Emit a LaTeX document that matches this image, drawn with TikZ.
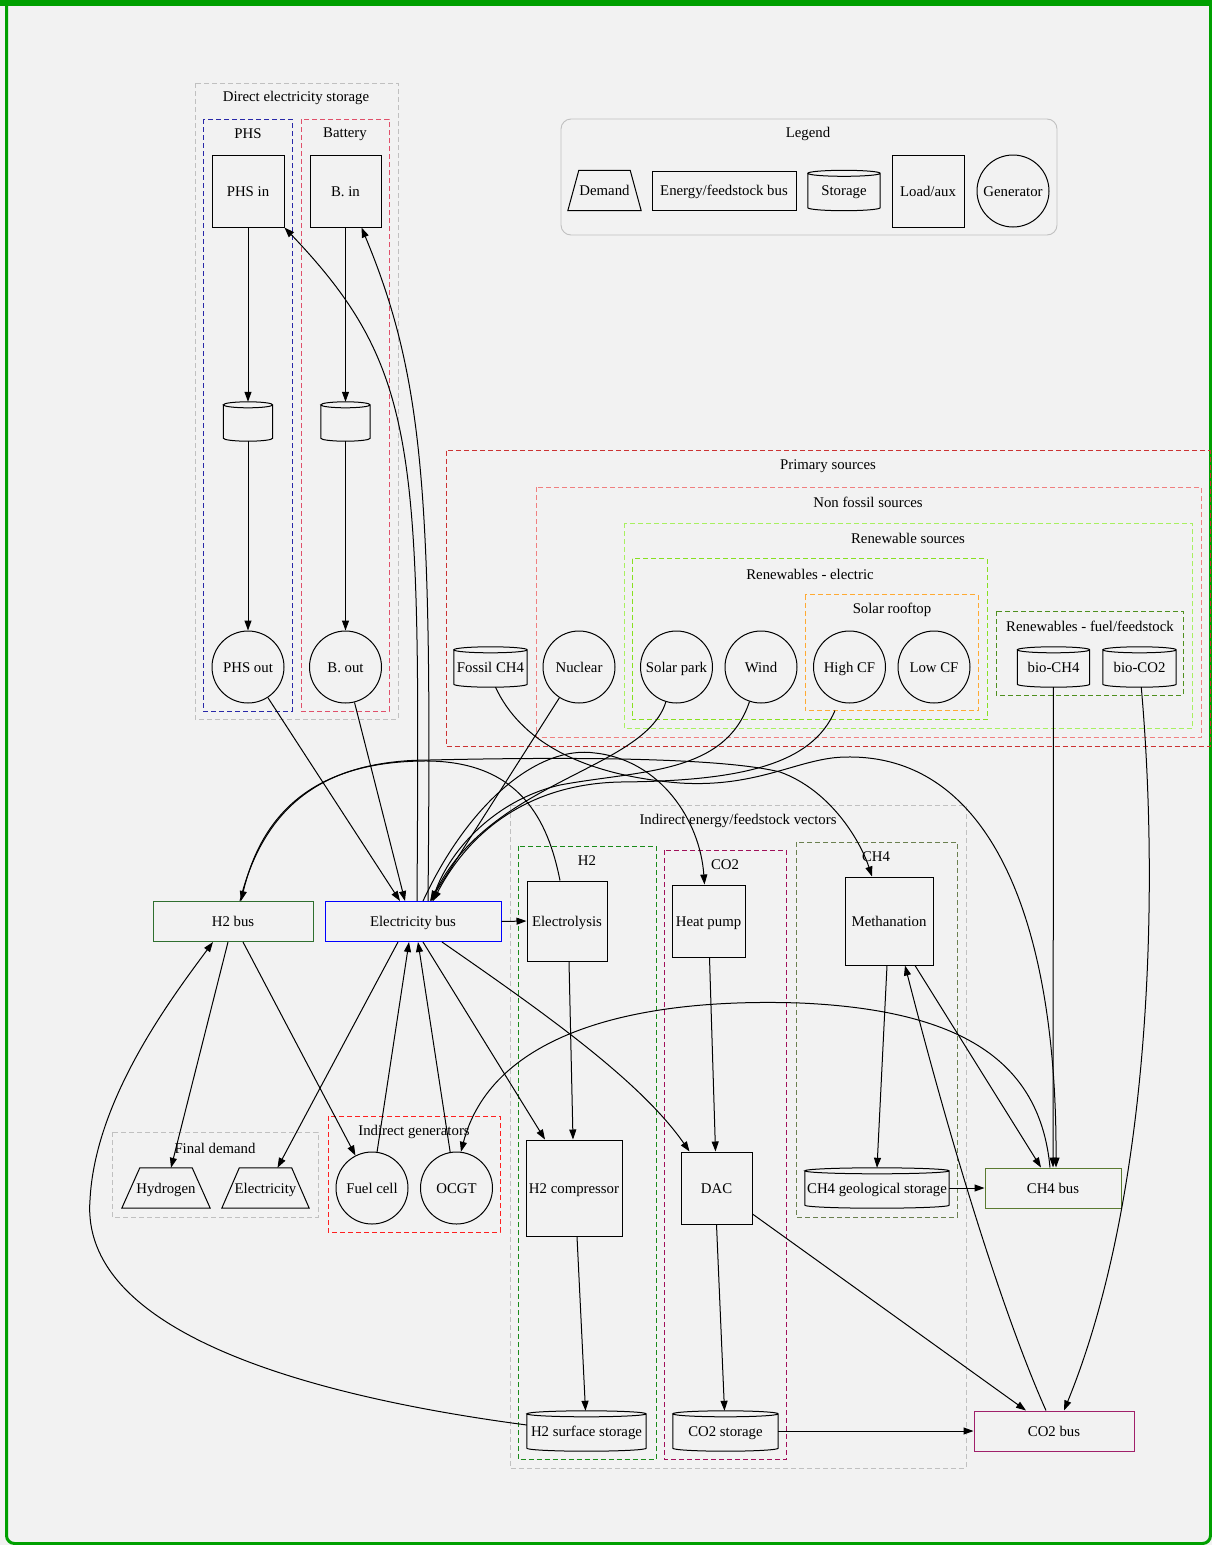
\documentclass[tikz,border=0pt]{standalone}
\usepackage{fontspec}
\setmainfont{Liberation Serif}
\usetikzlibrary{arrows.meta,shapes.geometric,calc}
\definecolor{bgc}{HTML}{F2F2F2}
\definecolor{gframe}{HTML}{00A000}
\definecolor{cgray}{HTML}{C0C0C0}
\definecolor{cphs}{HTML}{2828A8}
\definecolor{cbat}{HTML}{E0506A}
\definecolor{cprim}{HTML}{CC3333}
\definecolor{cnonf}{HTML}{F08080}
\definecolor{cren}{HTML}{A8F060}
\definecolor{crel}{HTML}{88E020}
\definecolor{croof}{HTML}{FFAA33}
\definecolor{cfuel}{HTML}{4F8F1F}
\definecolor{cigen}{HTML}{FF2020}
\definecolor{ch2}{HTML}{1A8A1A}
\definecolor{cco2}{HTML}{A0105A}
\definecolor{cch4}{HTML}{6B8050}
\definecolor{bh2}{HTML}{2F6F2F}
\definecolor{bel}{HTML}{0000FF}
\definecolor{bch4}{HTML}{5A7A30}
\definecolor{bco2}{HTML}{A0206A}
\newcommand\gvcyl[1]{%
 \draw[line width=1pt] let \p1=(#1.north west), \p2=(#1.south east), \n1={(\x2-\x1)/2} in
 (\x1,\y1-3pt) -- (\x1,\y2+3pt) arc[start angle=180,end angle=360,x radius=\n1,y radius=3pt]
 -- (\x2,\y1-3pt) arc[start angle=0,end angle=180,x radius=\n1,y radius=3pt]
 arc[start angle=180,end angle=360,x radius=\n1,y radius=3pt];}
\newcommand\gvtrap[2]{%
 \draw[line width=1pt] (#1.south west) -- ([xshift=#2]#1.north west) -- ([xshift=-#2]#1.north east) -- (#1.south east) -- cycle;}
\begin{document}
\begin{tikzpicture}[x=1pt,y=-1pt,
 font=\fontsize{14.8pt}{17pt}\selectfont,
 txt/.style={text height=13pt, text depth=3pt},
 box/.style={draw, rectangle, line width=1pt, inner sep=1pt, txt},
 gen/.style={draw, circle, minimum size=72pt, inner sep=0pt, line width=1pt, txt},
 store/.style={rectangle, inner sep=1pt, minimum height=40pt, txt},
 bus/.style={draw, rectangle, minimum height=40pt, line width=1pt, inner sep=1pt, txt},
 demand/.style={rectangle, inner sep=1pt, minimum height=40pt, txt},
 clus/.style={dash pattern=on 5pt off 3pt, line width=0.9pt},
 edge/.style={line width=1pt, -{Triangle[length=10pt,width=7pt]}},
 clabel/.style={inner sep=0pt}]
\useasboundingbox (0,0) rectangle (1212,1545);
\fill[bgc] (0,0) rectangle (1212,1545);
% frame
\fill[gframe] (0,0) rectangle (1212,6);
\draw[gframe, line width=3pt, rounded corners=8pt] (6.5,-20) -- (6.5,1543.5) -- (1210.5,1543.5) -- (1210.5,-20);

% ---------- clusters ----------
\draw[clus, cgray] (195,83) rectangle (398,719);
\node[clabel] (lDirect) at (296,98) {Direct electricity storage};
\draw[clus, cphs] (203,119) rectangle (292,711);
\node[clabel] (lPHS) at (248,134) {PHS};
\draw[clus, cbat] (301,119) rectangle (389,711);
\node[clabel] (lBat) at (345,134) {Battery};

\draw[cgray, line width=0.9pt, rounded corners=10pt] (561,119) rectangle (1057,235);
\node[clabel] (lLegend) at (808,134) {Legend};

\draw[clus, cprim] (446,450.5) rectangle (1210,746);
\node[clabel] (lPrim) at (828,466) {Primary sources};
\draw[clus, cnonf] (536,487) rectangle (1201,737.5);
\node[clabel] (lNonf) at (868,502) {Non fossil sources};
\draw[clus, cren] (624,523) rectangle (1192,728.5);
\node[clabel] (lRen) at (908,538) {Renewable sources};
\draw[clus, crel] (632,558.5) rectangle (987,719.5);
\node[clabel] (lRel) at (810,574) {Renewables - electric};
\draw[clus, croof] (805,594.5) rectangle (978,710.5);
\node[clabel] (lRoof) at (892,610) {Solar rooftop};
\draw[clus, cfuel] (996,611) rectangle (1183,695);
\node[clabel] (lFuel) at (1090,626) {Renewables - fuel/feedstock};

\draw[clus, cgray] (510,805) rectangle (966,1468);
\node[clabel] (lInd) at (738,821) {Indirect energy/feedstock vectors};
\draw[clus, ch2] (518,846) rectangle (656,1459.5);
\node[clabel] (lH2) at (587,861) {H2};
\draw[clus, cco2] (664.5,850) rectangle (786,1459.5);
\node[clabel] (lCO2) at (725,865) {CO2};
\draw[clus, cch4] (796,842) rectangle (957,1217);
\node[clabel] (lCH4) at (876,857) {CH4};

\draw[clus, cgray] (112,1132) rectangle (318,1217);
\node[clabel] (lFinal) at (215,1148) {Final demand};
\draw[clus, cigen] (328,1116) rectangle (500,1232);
\node[clabel] (lIgen) at (414,1132) {Indirect generators};

% ---------- nodes ----------
\node[box, minimum width=72pt, minimum height=72pt] (phsin) at (248,191) {PHS in};
\node[box, minimum width=71pt, minimum height=72pt] (bin) at (345.5,191) {B. in};
\node[store, minimum width=49pt, minimum height=39pt] (phsS) at (248,421.5) {};
\node[store, minimum width=49pt, minimum height=39pt] (batS) at (345.5,421.5) {};
\node[gen] (phsout) at (248,667) {PHS out};
\node[gen] (bout) at (345.5,667) {B. out};

% legend
\node[demand, minimum width=73pt] (legD) at (604.5,190.5) {Demand};
\node[box, minimum width=144pt, minimum height=39pt] (legB) at (724,190.5) {Energy/feedstock bus};
\node[store, minimum width=72pt] (legS) at (844,190.5) {Storage};
\node[box, minimum width=72pt, minimum height=72pt] (legL) at (928,191) {Load/aux};
\node[gen] (legG) at (1013,191) {Generator};

% primary
\node[store, minimum width=73pt] (fossil) at (490.5,667) {Fossil CH4};
\node[gen] (nuclear) at (579,667) {Nuclear};
\node[gen] (solarpark) at (676.5,667) {Solar park};
\node[gen] (wind) at (761,667) {Wind};
\node[gen] (highcf) at (849.5,667) {High CF};
\node[gen] (lowcf) at (934,667) {Low CF};
\node[store, minimum width=72pt] (bioch4) at (1053.5,667) {bio-CH4};
\node[store, minimum width=73pt] (bioco2) at (1139.5,667) {bio-CO2};
\coordinate (roofbot) at (835,710.5);

% row 2
\node[bus, draw=bh2, minimum width=160pt] (h2bus) at (233,921.5) {H2 bus};
\node[bus, draw=bel, minimum width=176pt] (elec) at (413,921.5) {Electricity bus};
\node[box, minimum width=80pt, minimum height=80pt] (ely) at (567,921) {Electrolysis};
\node[box, minimum width=73pt, minimum height=72pt] (hp) at (708.5,921) {Heat pump};
\node[box, minimum width=88pt, minimum height=88pt] (meth) at (889,921) {Methanation};

% row 3
\node[demand, minimum width=88pt] (hyd) at (166,1188) {Hydrogen};
\node[demand, minimum width=87pt] (eldem) at (265.5,1188) {Electricity};
\node[gen] (fuelcell) at (372,1188) {Fuel cell};
\node[gen] (ocgt) at (456.5,1188) {OCGT};
\node[box, minimum width=96pt, minimum height=96pt] (h2comp) at (574,1188) {H2 compressor};
\node[box, minimum width=71pt, minimum height=72pt] (dac) at (716.5,1188) {DAC};
\node[store, minimum width=144pt] (ch4store) at (877,1188) {CH4 geological storage};
\node[bus, draw=bch4, minimum width=136pt] (ch4bus) at (1053,1188) {CH4 bus};

% row 4
\node[store, minimum width=119pt] (h2store) at (586.5,1431) {H2 surface storage};
\node[store, minimum width=105pt] (co2store) at (725.5,1431) {CO2 storage};
\node[bus, draw=bco2, minimum width=160pt] (co2bus) at (1054,1431) {CO2 bus};

\foreach \nm in {phsS,batS,legS,fossil,bioch4,bioco2,ch4store,h2store,co2store} {\gvcyl{\nm}}
\gvtrap{legD}{11pt}
\gvtrap{hyd}{18pt}
\gvtrap{eldem}{17.5pt}

% ---------- edges ----------
\draw[edge] (phsin) -- (phsS);
\draw[edge] (phsS) -- (phsout);
\draw[edge] (bin) -- (batS);
\draw[edge] (batS) -- (bout);
\draw[edge] (phsout) -- ([xshift=-13pt]elec.north);
\draw[edge] (bout) -- ([xshift=-8pt]elec.north);
\draw[edge] ([xshift=4pt]elec.north) .. controls (420,450) and (420,370) .. (phsin.south east);
\draw[edge] ([xshift=15pt]elec.north) .. controls (432,500) and (425,380) .. ([xshift=16pt]bin.south);
\draw[edge] (nuclear) -- ([xshift=17pt]elec.north);
\draw[edge] (solarpark) .. controls (645,770) and (490,780) .. ([xshift=18pt]elec.north);
\draw[edge] (wind) .. controls (725,775) and (640,770) .. (560,785) .. controls (495,800) and (450,850) .. ([xshift=19pt]elec.north);
\draw[edge] (roofbot) .. controls (812,765) and (740,781) .. (620,782) .. controls (530,784) and (470,830) .. ([xshift=20pt]elec.north);
\draw[edge] ([xshift=10pt]elec.north) .. controls (470,800) and (540,745) .. (595,753) .. controls (660,760) and (700,820) .. ([xshift=-4pt]hp.north);
\draw[edge] (elec.east) -- (ely.west);
\draw[edge] ([xshift=-7pt]ely.north) .. controls (548,820) and (520,763) .. (430,761) .. controls (330,760) and (265,800) .. ([xshift=8pt]h2bus.north);
\draw[edge] ([xshift=7pt]h2bus.north) .. controls (265,800) and (330,760) .. (430,760) .. controls (560,757) and (720,757) .. (780,772) .. controls (830,790) and (860,840) .. ([xshift=-17pt]meth.north);
\draw[edge] ([xshift=5pt]fossil.south) .. controls (520,740) and (580,775) .. (680,783) .. controls (760,788) and (800,757) .. (847,757) .. controls (990,755) and (1057,920) .. ([xshift=3pt]ch4bus.north);
\draw[edge] (bioch4) -- (ch4bus);
\draw[edge] (bioco2) .. controls (1160,900) and (1150,1200) .. ([xshift=10pt]co2bus.north);
\draw[edge] ([xshift=-3pt]ch4bus.north) .. controls (1040,1060) and (960,1010) .. (800,1003) .. controls (620,997) and (490,1040) .. (ocgt.83);
\draw[edge] ([xshift=-15pt]elec.south) -- ([xshift=12pt]eldem.north);
\draw[edge] (fuelcell.82) -- ([xshift=-4pt]elec.south);
\draw[edge] (ocgt.100) -- ([xshift=5pt]elec.south);
\draw[edge] ([xshift=10pt]elec.south) -- ([xshift=-29pt]h2comp.north);
\draw[edge] ([xshift=29pt]elec.south) .. controls (540,1010) and (640,1080) .. ([xshift=-27pt]dac.north);
\draw[edge] ([xshift=-5pt]h2bus.south) -- ([xshift=5pt]hyd.north);
\draw[edge] ([xshift=10pt]h2bus.south) -- (fuelcell.117);
\draw[edge] ([yshift=6pt]h2store.west) .. controls (300,1395) and (80,1330) .. (90,1200) .. controls (95,1100) and (170,1000) .. ([xshift=-20pt]h2bus.south);
\draw[edge] ([xshift=2pt]ely.south) -- ([xshift=-1pt]h2comp.north);
\draw[edge] ([xshift=3pt]h2comp.south) -- ([xshift=-1pt]h2store.north);
\draw[edge] ([xshift=1pt]hp.south) -- ([xshift=-1pt]dac.north);
\draw[edge] (dac.south) -- ([xshift=-1pt]co2store.north);
\draw[edge] (co2store.east) -- (co2bus.west);
\draw[edge] ([yshift=-26pt]dac.east) -- ([xshift=-28pt]co2bus.north);
\draw[edge] ([xshift=-8pt]co2bus.north) .. controls (1010,1330) and (960,1180) .. ([xshift=16pt]meth.south);
\draw[edge] ([xshift=-2pt]meth.south) -- (ch4store.north);
\draw[edge] ([xshift=26pt]meth.south) -- ([xshift=-12pt]ch4bus.north);
\draw[edge] (ch4store.east) -- (ch4bus.west);
\end{tikzpicture}
\end{document}
